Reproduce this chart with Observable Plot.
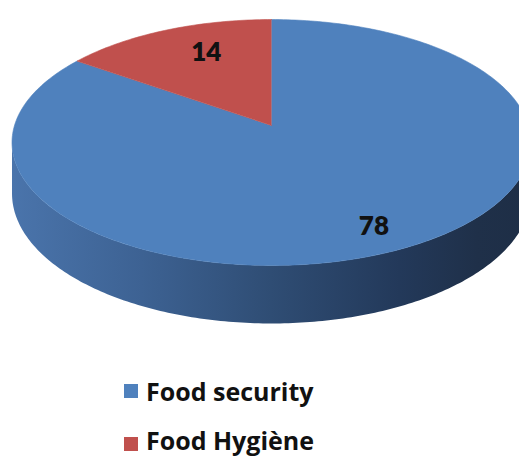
<!DOCTYPE html>
<html>
<head>
<meta charset="utf-8">
<script src="https://cdn.jsdelivr.net/npm/d3@7"></script>
<script src="https://cdn.jsdelivr.net/npm/@observablehq/plot@0.6"></script>
<style>
  html, body { margin: 0; padding: 0; background: #fff; }
  #wrap { position: relative; width: 519px; height: 458px; overflow: hidden; }
  .sw { position: absolute; left: 124px; width: 14px; height: 14px; }
  .lab { position: absolute; left: 146px; font-family: "Open Sans", Lato, sans-serif; font-weight: 700; font-size: 25px; line-height: 25px; color: #111; white-space: nowrap; }
</style>
</head>
<body>
<div id="wrap"></div>
<script>
// ---- data ----
const categories = ["Food security", "Food Hygiène"];
const values = [78, 14];
const colors = ["#4f81bd", "#c0504d"];

// ---- layout (3D perspective pie) ----
const W = 519, H = 340;
const cx = 271, cy = 125, R = 257, B = 120.6, k = 0.1382, D = 50;
const deg = Math.PI / 180;
function proj(theta, r, z) { // theta clockwise from far (top) direction
  const u = r * Math.sin(theta), v = -r * Math.cos(theta);
  const s = 1 / (1 - k * v);
  return { x: cx + R * u * s, y: cy + (B * v + D * z) * s };
}

const total = d3.sum(values);
let acc = 0;
const slices = values.map((v, i) => {
  const a0 = acc / total * 360; acc += v; const a1 = acc / total * 360;
  return { name: categories[i], value: v, color: colors[i], a0, a1 };
});

// top faces
const topPts = slices.map(s => {
  const pts = [proj(0, 0, 0)];
  const n = Math.max(8, Math.ceil(s.a1 - s.a0));
  for (let j = 0; j <= n; j++) pts.push(proj((s.a0 + (s.a1 - s.a0) * j / n) * deg, 1, 0));
  return pts;
});

// side (visible front rim)
const tA = Math.acos(-k) / deg, tB = 360 - tA;
const sidePts = [];
for (let j = 0; j <= 200; j++) sidePts.push(proj((tA + (tB - tA) * j / 200) * deg, 1, 0));
for (let j = 200; j >= 0; j--) sidePts.push(proj((tA + (tB - tA) * j / 200) * deg, 1, 1));

// label placement (polar position on the pie face)
const labelPlace = [{ theta: 154.5, r: 0.83 }, { theta: 337.2, r: 0.715 }];
const labels = slices.map((s, i) => ({ text: String(s.value), ...proj(labelPlace[i].theta * deg, labelPlace[i].r, 0) }));

const marks = [
  Plot.line(sidePts, { x: "x", y: "y", fill: "url(#sideGrad)", stroke: "none", curve: "linear" }),
  ...slices.map((s, i) => Plot.line(topPts[i], { x: "x", y: "y", fill: s.color, stroke: s.color, strokeWidth: 0.6, curve: "linear" })),
  Plot.text(labels, { x: "x", y: "y", text: "text", fontSize: 26, fontWeight: 800, fontFamily: "Lato, sans-serif", fill: "#111", textAnchor: "middle", lineAnchor: "middle" })
];

const chart = Plot.plot({
  width: W, height: H,
  margin: 0,
  x: { domain: [0, W], range: [0, W], axis: null },
  y: { domain: [0, H], range: [0, H], axis: null },
  style: { background: "#fff", overflow: "hidden" },
  marks
});

// gradient for the side
const ns = "http://www.w3.org/2000/svg";
const defs = document.createElementNS(ns, "defs");
const lg = document.createElementNS(ns, "linearGradient");
lg.setAttribute("id", "sideGrad");
lg.setAttribute("gradientUnits", "userSpaceOnUse");
lg.setAttribute("x1", "12"); lg.setAttribute("x2", "528");
lg.setAttribute("y1", "0"); lg.setAttribute("y2", "0");
[[0, "#4a74ab"], [0.25, "#3d6293"], [0.5, "#2f4d74"], [0.75, "#23395a"], [0.9, "#1f3049"], [1, "#1e2e46"]].forEach(([o, c]) => {
  const st = document.createElementNS(ns, "stop");
  st.setAttribute("offset", o); st.setAttribute("stop-color", c);
  lg.appendChild(st);
});
defs.appendChild(lg);
chart.insertBefore(defs, chart.firstChild);

const wrap = document.getElementById("wrap");
wrap.appendChild(chart);

// legend
const swTops = [384, 437];
const labTops = [379, 428];
slices.forEach((s, i) => {
  const sw = document.createElement("div");
  sw.className = "sw"; sw.style.background = s.color; sw.style.top = swTops[i] + "px";
  const lab = document.createElement("div");
  lab.className = "lab"; lab.textContent = s.name; lab.style.top = labTops[i] + "px";
  wrap.appendChild(sw); wrap.appendChild(lab);
});
</script>
</body>
</html>
